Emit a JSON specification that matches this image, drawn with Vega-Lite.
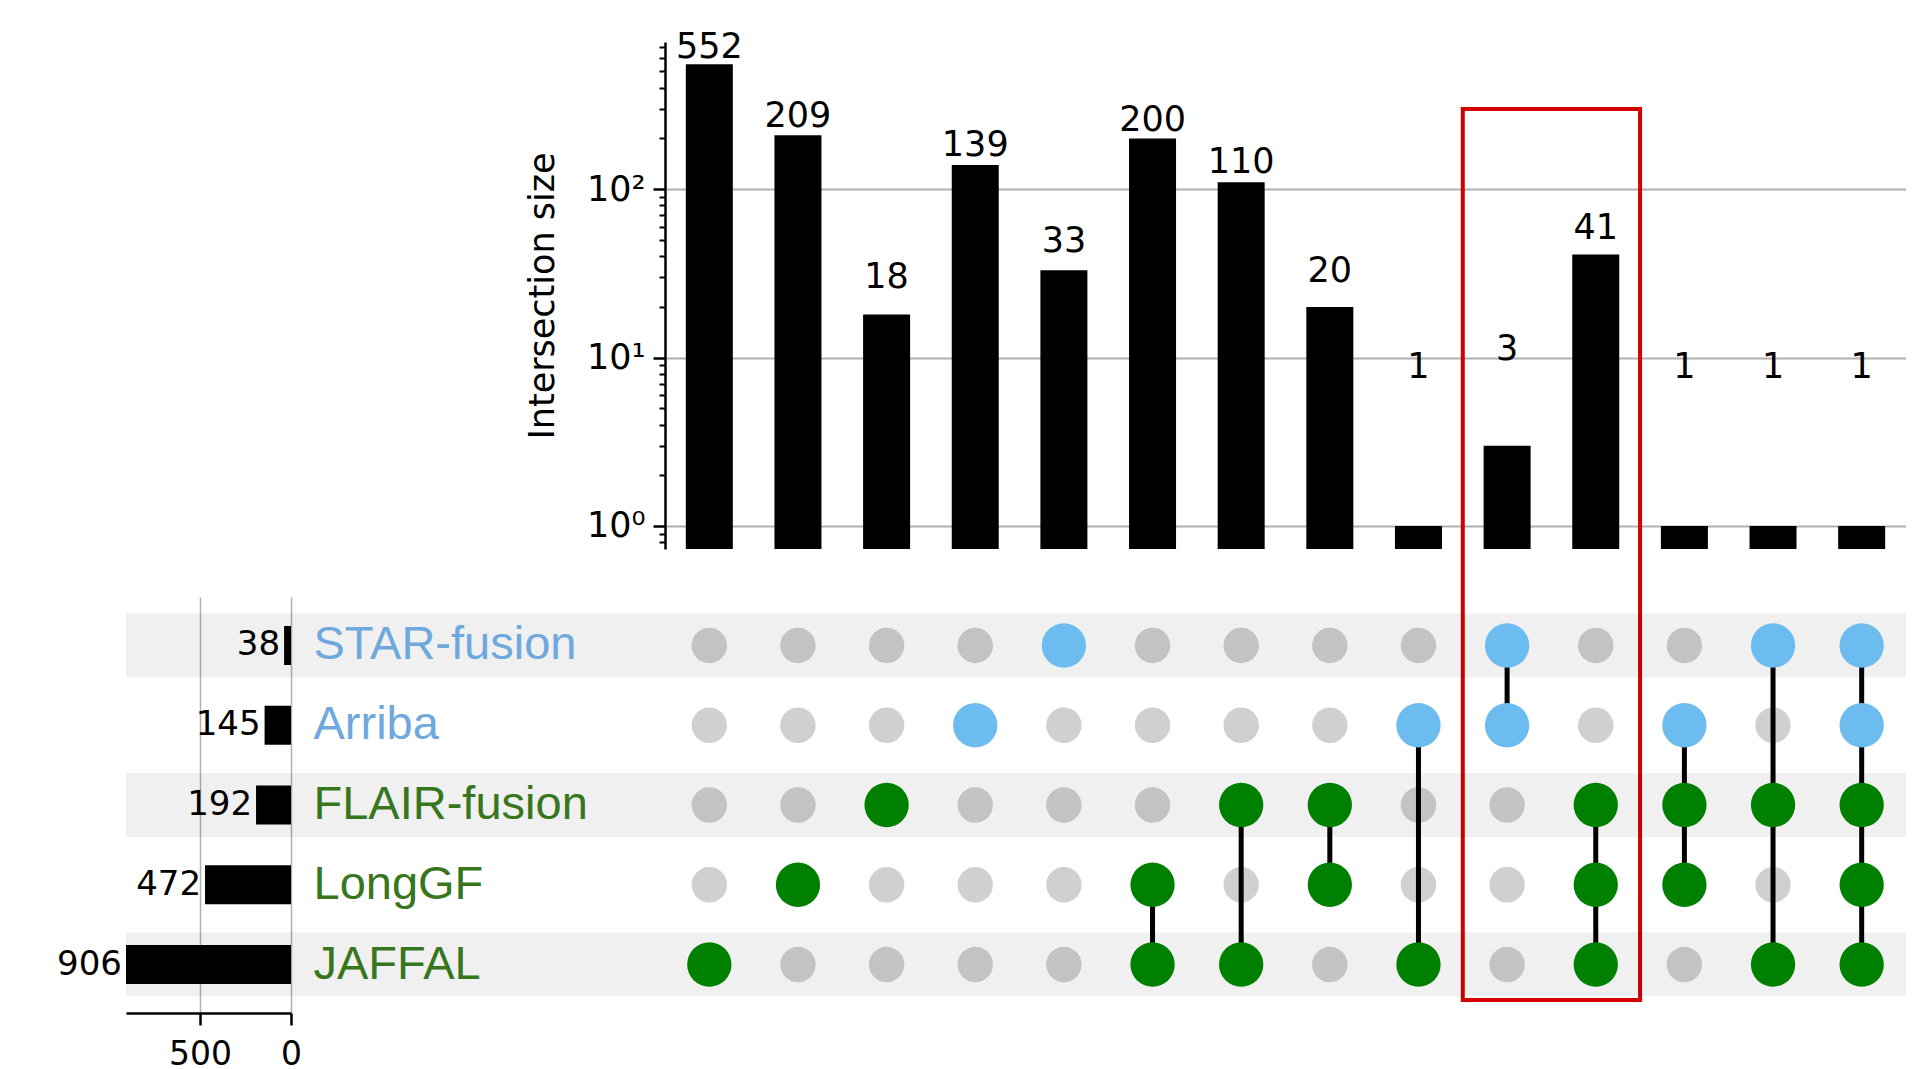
{
  "$schema": "https://vega.github.io/schema/vega-lite/v6.json",
  "background": "white",
  "padding": {"left": 57, "top": 29, "right": 0, "bottom": 0},
  "config": {"view": {"stroke": null}, "font": "DejaVu Sans"},
  "datasets": {
    "intersections": [
      {"i": 1, "sets": "JAFFAL", "size": 552},
      {"i": 2, "sets": "LongGF", "size": 209},
      {"i": 3, "sets": "FLAIR-fusion", "size": 18},
      {"i": 4, "sets": "Arriba", "size": 139},
      {"i": 5, "sets": "STAR-fusion", "size": 33},
      {"i": 6, "sets": "LongGF & JAFFAL", "size": 200},
      {"i": 7, "sets": "FLAIR-fusion & JAFFAL", "size": 110},
      {"i": 8, "sets": "FLAIR-fusion & LongGF", "size": 20},
      {"i": 9, "sets": "Arriba & JAFFAL", "size": 1},
      {"i": 10, "sets": "STAR-fusion & Arriba", "size": 3},
      {"i": 11, "sets": "FLAIR-fusion & LongGF & JAFFAL", "size": 41},
      {"i": 12, "sets": "Arriba & FLAIR-fusion & LongGF", "size": 1},
      {"i": 13, "sets": "STAR-fusion & FLAIR-fusion & JAFFAL", "size": 1},
      {"i": 14, "sets": "all five", "size": 1}
    ],
    "totals": [
      {"set": "STAR-fusion", "total": 38},
      {"set": "Arriba", "total": 145},
      {"set": "FLAIR-fusion", "total": 192},
      {"set": "LongGF", "total": 472},
      {"set": "JAFFAL", "total": 906}
    ],
    "shade": [{"set": "STAR-fusion"}, {"set": "FLAIR-fusion"}, {"set": "JAFFAL"}],
    "highlight": [{"box": "highlight"}],
    "links": [
      {"i": 6, "top": "LongGF", "bottom": "JAFFAL"},
      {"i": 7, "top": "FLAIR-fusion", "bottom": "JAFFAL"},
      {"i": 8, "top": "FLAIR-fusion", "bottom": "LongGF"},
      {"i": 9, "top": "Arriba", "bottom": "JAFFAL"},
      {"i": 10, "top": "STAR-fusion", "bottom": "Arriba"},
      {"i": 11, "top": "FLAIR-fusion", "bottom": "JAFFAL"},
      {"i": 12, "top": "Arriba", "bottom": "LongGF"},
      {"i": 13, "top": "STAR-fusion", "bottom": "JAFFAL"},
      {"i": 14, "top": "STAR-fusion", "bottom": "JAFFAL"}
    ],
    "membership": [
      {"i": 1, "set": "STAR-fusion", "active": false}, {"i": 1, "set": "Arriba", "active": false}, {"i": 1, "set": "FLAIR-fusion", "active": false}, {"i": 1, "set": "LongGF", "active": false}, {"i": 1, "set": "JAFFAL", "active": true},
      {"i": 2, "set": "STAR-fusion", "active": false}, {"i": 2, "set": "Arriba", "active": false}, {"i": 2, "set": "FLAIR-fusion", "active": false}, {"i": 2, "set": "LongGF", "active": true}, {"i": 2, "set": "JAFFAL", "active": false},
      {"i": 3, "set": "STAR-fusion", "active": false}, {"i": 3, "set": "Arriba", "active": false}, {"i": 3, "set": "FLAIR-fusion", "active": true}, {"i": 3, "set": "LongGF", "active": false}, {"i": 3, "set": "JAFFAL", "active": false},
      {"i": 4, "set": "STAR-fusion", "active": false}, {"i": 4, "set": "Arriba", "active": true}, {"i": 4, "set": "FLAIR-fusion", "active": false}, {"i": 4, "set": "LongGF", "active": false}, {"i": 4, "set": "JAFFAL", "active": false},
      {"i": 5, "set": "STAR-fusion", "active": true}, {"i": 5, "set": "Arriba", "active": false}, {"i": 5, "set": "FLAIR-fusion", "active": false}, {"i": 5, "set": "LongGF", "active": false}, {"i": 5, "set": "JAFFAL", "active": false},
      {"i": 6, "set": "STAR-fusion", "active": false}, {"i": 6, "set": "Arriba", "active": false}, {"i": 6, "set": "FLAIR-fusion", "active": false}, {"i": 6, "set": "LongGF", "active": true}, {"i": 6, "set": "JAFFAL", "active": true},
      {"i": 7, "set": "STAR-fusion", "active": false}, {"i": 7, "set": "Arriba", "active": false}, {"i": 7, "set": "FLAIR-fusion", "active": true}, {"i": 7, "set": "LongGF", "active": false}, {"i": 7, "set": "JAFFAL", "active": true},
      {"i": 8, "set": "STAR-fusion", "active": false}, {"i": 8, "set": "Arriba", "active": false}, {"i": 8, "set": "FLAIR-fusion", "active": true}, {"i": 8, "set": "LongGF", "active": true}, {"i": 8, "set": "JAFFAL", "active": false},
      {"i": 9, "set": "STAR-fusion", "active": false}, {"i": 9, "set": "Arriba", "active": true}, {"i": 9, "set": "FLAIR-fusion", "active": false}, {"i": 9, "set": "LongGF", "active": false}, {"i": 9, "set": "JAFFAL", "active": true},
      {"i": 10, "set": "STAR-fusion", "active": true}, {"i": 10, "set": "Arriba", "active": true}, {"i": 10, "set": "FLAIR-fusion", "active": false}, {"i": 10, "set": "LongGF", "active": false}, {"i": 10, "set": "JAFFAL", "active": false},
      {"i": 11, "set": "STAR-fusion", "active": false}, {"i": 11, "set": "Arriba", "active": false}, {"i": 11, "set": "FLAIR-fusion", "active": true}, {"i": 11, "set": "LongGF", "active": true}, {"i": 11, "set": "JAFFAL", "active": true},
      {"i": 12, "set": "STAR-fusion", "active": false}, {"i": 12, "set": "Arriba", "active": true}, {"i": 12, "set": "FLAIR-fusion", "active": true}, {"i": 12, "set": "LongGF", "active": true}, {"i": 12, "set": "JAFFAL", "active": false},
      {"i": 13, "set": "STAR-fusion", "active": true}, {"i": 13, "set": "Arriba", "active": false}, {"i": 13, "set": "FLAIR-fusion", "active": true}, {"i": 13, "set": "LongGF", "active": false}, {"i": 13, "set": "JAFFAL", "active": true},
      {"i": 14, "set": "STAR-fusion", "active": true}, {"i": 14, "set": "Arriba", "active": true}, {"i": 14, "set": "FLAIR-fusion", "active": true}, {"i": 14, "set": "LongGF", "active": true}, {"i": 14, "set": "JAFFAL", "active": true}
    ]
  },
  "columns": 3,
  "bounds": "flush",
  "align": "each",
  "spacing": {"row": 48, "column": 0},
  "concat": [
    {"width": 165, "height": 1, "data": {"values": []}, "mark": "point"},
    {"width": 374, "height": 1, "data": {"values": []}, "mark": "point"},
    {
      "width": 1241,
      "height": 507,
      "data": {"name": "intersections"},
      "resolve": {"axis": {"y": "independent"}},
      "layer": [
        {
          "mark": {"type": "bar", "size": 47, "color": "black"},
          "encoding": {
            "x": {"field": "i", "type": "quantitative", "scale": {"domain": [0.5, 14.5], "nice": false, "zero": false, "padding": 0}, "axis": null},
            "y": {
              "field": "size", "type": "quantitative",
              "scale": {"type": "log", "domain": [0.73, 748], "nice": false},
              "axis": {
                "orient": "left", "values": [1, 10, 100],
                "labelExpr": "datum.value == 1 ? '10⁰' : datum.value == 10 ? '10¹' : '10²'",
                "grid": true, "gridColor": "#b0b0b0", "gridWidth": 2,
                "domainColor": "black", "domainWidth": 2.5,
                "tickColor": "black", "tickWidth": 2.5, "tickSize": 12,
                "labelFontSize": 35, "labelColor": "black", "labelPadding": 8,
                "title": "Intersection size", "titleFontSize": 35, "titleFontWeight": "normal",
                "titleColor": "black", "titlePadding": 26
              }
            },
            "y2": {"datum": 0.73}
          }
        },
        {
          "mark": {"type": "text", "fontSize": 35, "baseline": "alphabetic", "align": "center", "color": "black",
                   "dy": {"expr": "-(5.7 + 168.4*log(1 + 6/datum.size)/LN10)"}},
          "encoding": {
            "x": {"field": "i", "type": "quantitative"},
            "y": {
              "field": "size", "type": "quantitative",
              "axis": {
                "orient": "left",
                "values": [0.8, 0.9, 2, 3, 4, 5, 6, 7, 8, 9, 20, 30, 40, 50, 60, 70, 80, 90, 200, 300, 400, 500, 600, 700],
                "labels": false, "grid": false, "domain": false,
                "tickSize": 6, "tickWidth": 2, "tickColor": "black", "title": null
              }
            },
            "text": {"field": "size", "type": "quantitative"}
          }
        },
        {
          "data": {"name": "highlight"},
          "mark": {"type": "rect", "fill": "transparent", "stroke": "#d40000", "strokeWidth": 4},
          "encoding": {
            "x": {"datum": 9.5},
            "x2": {"datum": 11.5},
            "y": {"datum": 299, "axis": null},
            "y2": {"datum": 0.00153}
          }
        }
      ]
    },
    {
      "width": 165,
      "height": 416,
      "layer": [
        {
          "data": {"name": "shade"},
          "mark": {"type": "rect", "color": "black", "opacity": 0.06},
          "encoding": {
            "y": {"field": "set", "type": "nominal",
                  "scale": {"domain": ["STAR-fusion", "Arriba", "FLAIR-fusion", "LongGF", "JAFFAL"], "paddingInner": 0.2, "paddingOuter": 0.208},
                  "axis": null}
          }
        },
        {
          "data": {"name": "totals"},
          "mark": {"type": "bar", "color": "black", "height": {"band": 0.611}},
          "encoding": {
            "y": {"field": "set", "type": "nominal", "axis": null},
            "x": {
              "field": "total", "type": "quantitative",
              "scale": {"domain": [0, 906], "reverse": true, "nice": false},
              "axis": {
                "values": [0, 500], "grid": true, "gridColor": "#b0b0b0", "gridWidth": 1.5,
                "domainColor": "black", "domainWidth": 2.5, "tickColor": "black", "tickWidth": 2.5, "tickSize": 12,
                "labelFontSize": 33, "labelColor": "black", "labelPadding": 13, "labelFlush": false, "title": null
              }
            }
          }
        },
        {
          "data": {"name": "totals"},
          "mark": {"type": "text", "align": "right", "baseline": "middle", "dx": -4, "fontSize": 34, "color": "black"},
          "encoding": {
            "y": {"field": "set", "type": "nominal"},
            "x": {"field": "total", "type": "quantitative"},
            "text": {"field": "total", "type": "quantitative"}
          }
        }
      ]
    },
    {
      "width": 374,
      "height": 416,
      "data": {"name": "shade"},
      "mark": {"type": "rect", "color": "black", "opacity": 0.06},
      "encoding": {
        "y": {
          "field": "set", "type": "nominal",
          "scale": {"domain": ["STAR-fusion", "Arriba", "FLAIR-fusion", "LongGF", "JAFFAL"], "paddingInner": 0.2, "paddingOuter": 0.208},
          "axis": {
            "orient": "left", "ticks": false, "domain": false, "labelAlign": "left", "labelPadding": -22,
            "labelFont": "Liberation Sans", "labelFontSize": 47, "labelBaseline": "middle", "labelLimit": 0,
            "labelColor": {"condition": {"test": "datum.value == 'STAR-fusion' || datum.value == 'Arriba'", "value": "#6fa8dc"}, "value": "#38761d"},
            "zindex": 1, "title": null
          }
        }
      }
    },
    {
      "width": 1241,
      "height": 416,
      "layer": [
        {
          "data": {"name": "membership"},
          "transform": [{"filter": "!datum.active"}],
          "mark": {"type": "circle", "size": 1257, "color": "#d0d0d0", "opacity": 1},
          "encoding": {
            "x": {"field": "i", "type": "quantitative", "scale": {"domain": [0.5, 14.5], "nice": false, "zero": false, "padding": 0}, "axis": null},
            "y": {"field": "set", "type": "nominal",
                  "scale": {"domain": ["STAR-fusion", "Arriba", "FLAIR-fusion", "LongGF", "JAFFAL"], "paddingInner": 0.2, "paddingOuter": 0.208},
                  "axis": null}
          }
        },
        {
          "data": {"name": "shade"},
          "mark": {"type": "rect", "color": "black", "opacity": 0.06},
          "encoding": {"y": {"field": "set", "type": "nominal"}}
        },
        {
          "data": {"name": "links"},
          "mark": {"type": "rule", "strokeWidth": 5, "color": "black"},
          "encoding": {
            "x": {"field": "i", "type": "quantitative"},
            "y": {"field": "top", "type": "nominal"},
            "y2": {"field": "bottom"}
          }
        },
        {
          "data": {"name": "membership"},
          "transform": [{"filter": "datum.active"}],
          "mark": {"type": "circle", "size": 1963, "opacity": 1},
          "encoding": {
            "x": {"field": "i", "type": "quantitative"},
            "y": {"field": "set", "type": "nominal"},
            "color": {"field": "set", "type": "nominal",
                      "scale": {"domain": ["STAR-fusion", "Arriba", "FLAIR-fusion", "LongGF", "JAFFAL"],
                                "range": ["#6cbcf0", "#6cbcf0", "#008000", "#008000", "#008000"]},
                      "legend": null}
          }
        }
      ]
    }
  ]
}
